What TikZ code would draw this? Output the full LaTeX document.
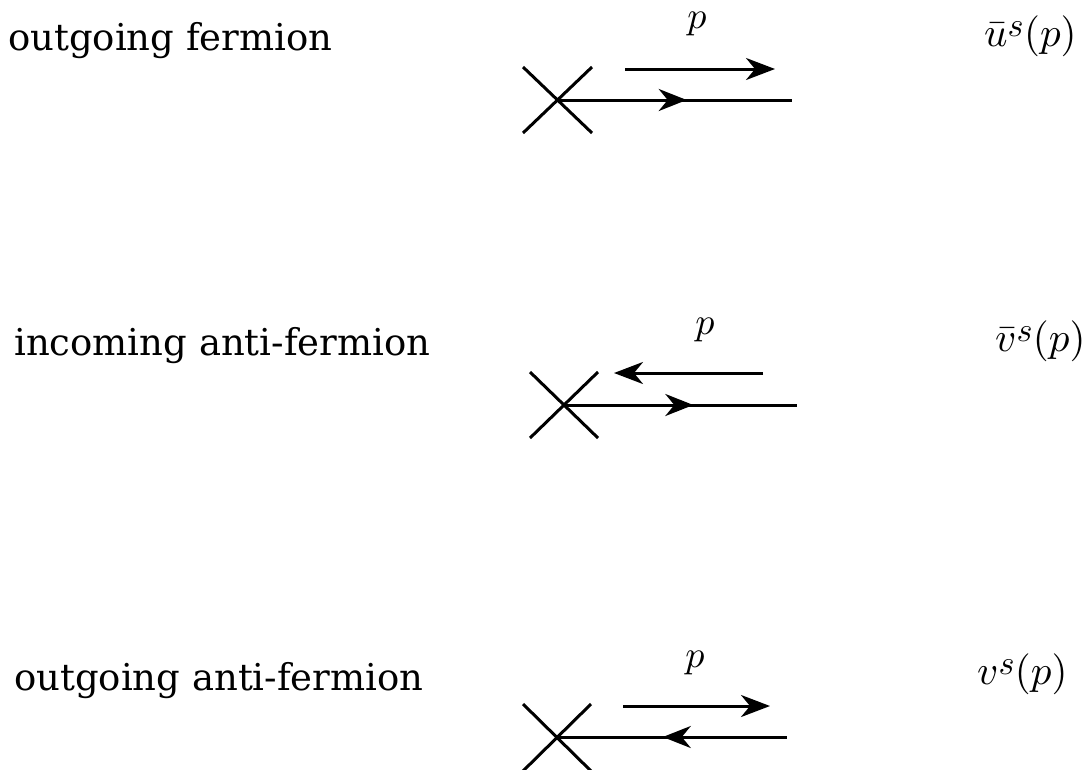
\documentclass[tikz,border=0pt]{standalone}
\usepackage{fontspec}
\newfontfamily\lblfont{DejaVu Serif}
\DeclareFontShape{OML}{cmm}{m}{it}{<->cmmi10}{}
\DeclareFontShape{OT1}{cmr}{m}{n}{<->cmr10}{}
\DeclareMathSizes{41}{41}{34}{25}
\usetikzlibrary{arrows.meta,decorations.markings}
\begin{document}
\begin{tikzpicture}[x=1pt,y=-1pt,
  line/.style={line width=3pt},
  tip/.style={-{Stealth[length=29pt,width=22pt,inset=9pt]}},
  midfwd/.style={postaction={decorate},decoration={markings,mark=at position #1 with {\arrow{Stealth[length=28pt,width=22pt,inset=9pt]}}}},
  midbwd/.style={postaction={decorate},decoration={markings,mark=at position #1 with {\arrowreversed{Stealth[length=28pt,width=22pt,inset=9pt]}}}},
  lbl/.style={anchor=base west,font=\lblfont\fontsize{37}{44}\selectfont,inner sep=0pt},
  mlbl/.style={anchor=base,font=\fontsize{38}{46}\selectfont,inner sep=0pt},
  slbl/.style={anchor=base west,font=\fontsize{41}{49}\selectfont,inner sep=0pt}]
\useasboundingbox (0,0) rectangle (1083,769);
% panel 1
\node[lbl] (t1) at (8,50) {outgoing fermion};
\coordinate (c1) at (558,100);
\draw[line] (523,67) -- (592,133);
\draw[line] (523,133) -- (592,67);
\coordinate (e1) at (792,100);
\draw[line,midfwd=0.55] (c1) -- (e1);
\coordinate (a1s) at (625,69);
\coordinate (a1e) at (775,69);
\draw[line,tip] (a1s) -- (a1e);
\node[mlbl] (p1) at (697,28) {$p$};
\node[slbl] (s1) at (984,46) {$\bar u^{s}(p)$};
% panel 2
\node[lbl] (t2) at (14,355) {incoming anti-fermion};
\coordinate (c2) at (564,405);
\draw[line] (530,372) -- (598,438);
\draw[line] (530,438) -- (598,372);
\coordinate (e2) at (797,405);
\draw[line,midfwd=0.555] (c2) -- (e2);
\coordinate (a2s) at (763,373);
\coordinate (a2e) at (614,373);
\draw[line,tip] (a2s) -- (a2e);
\node[mlbl] (p2) at (705,334) {$p$};
\node[slbl] (s2) at (995,351) {$\bar v^{s}(p)$};
% panel 3
\node[lbl] (t3) at (14,690) {outgoing anti-fermion};
\coordinate (c3) at (557,737);
\draw[line] (523,704) -- (591,771);
\draw[line] (523,771) -- (591,704);
\coordinate (e3) at (787,737);
\draw[line,midbwd=0.46] (c3) -- (e3);
\coordinate (a3s) at (623,706);
\coordinate (a3e) at (770,706);
\draw[line,tip] (a3s) -- (a3e);
\node[mlbl] (p3) at (695,667) {$p$};
\node[slbl] (s3) at (977,684) {$v^{s}(p)$};
\end{tikzpicture}
\end{document}
